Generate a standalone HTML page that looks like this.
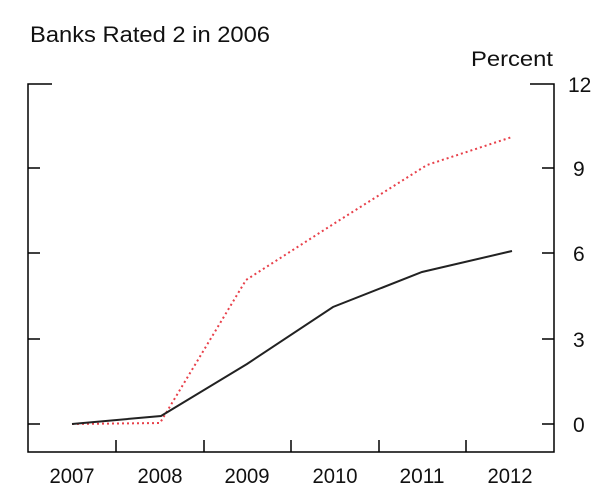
<!DOCTYPE html>
<html><head><meta charset="utf-8"><style>
html,body{margin:0;padding:0;background:#fff;}
svg{display:block;}
text{font-family:"Liberation Sans",Arial,sans-serif;fill:#111;}
</style></head><body>
<svg width="600" height="500" viewBox="0 0 600 500">
<text x="30" y="42" font-size="22" textLength="240" lengthAdjust="spacingAndGlyphs">Banks Rated 2 in 2006</text>
<text x="553" y="66" font-size="21" text-anchor="end" textLength="82" lengthAdjust="spacingAndGlyphs">Percent</text>
<g stroke="#000" stroke-width="1.5" fill="none">
<polyline points="52,84 28,84 28,452 554,452 554,84 530,84"/>
<line x1="28" y1="168" x2="40" y2="168"/>
<line x1="28" y1="253" x2="40" y2="253"/>
<line x1="28" y1="339" x2="40" y2="339"/>
<line x1="28" y1="424" x2="40" y2="424"/>
<line x1="554" y1="168" x2="542" y2="168"/>
<line x1="554" y1="253" x2="542" y2="253"/>
<line x1="554" y1="339" x2="542" y2="339"/>
<line x1="554" y1="424" x2="542" y2="424"/>
<line x1="116" y1="452" x2="116" y2="440"/>
<line x1="204" y1="452" x2="204" y2="440"/>
<line x1="291" y1="452" x2="291" y2="440"/>
<line x1="379" y1="452" x2="379" y2="440"/>
<line x1="466" y1="452" x2="466" y2="440"/>
</g>
<g font-size="21">
<text x="568" y="92">12</text>
<text x="573" y="176">9</text>
<text x="573" y="261">6</text>
<text x="573" y="347">3</text>
<text x="573" y="432">0</text>
</g>
<g font-size="21" text-anchor="middle">
<text x="72" y="483" textLength="45" lengthAdjust="spacingAndGlyphs">2007</text>
<text x="160" y="483" textLength="45" lengthAdjust="spacingAndGlyphs">2008</text>
<text x="247" y="483" textLength="45" lengthAdjust="spacingAndGlyphs">2009</text>
<text x="335" y="483" textLength="45" lengthAdjust="spacingAndGlyphs">2010</text>
<text x="422" y="483" textLength="45" lengthAdjust="spacingAndGlyphs">2011</text>
<text x="510" y="483" textLength="45" lengthAdjust="spacingAndGlyphs">2012</text>
</g>
<polyline points="72,424 160,423 246,280 335,223 427,165 512,137" fill="none" stroke="#e8404a" stroke-width="2" stroke-dasharray="2,3"/>
<polyline points="72,424 161,416 247,364 333,307 422,272 512,251" fill="none" stroke="#222" stroke-width="2"/>
</svg>
</body></html>
